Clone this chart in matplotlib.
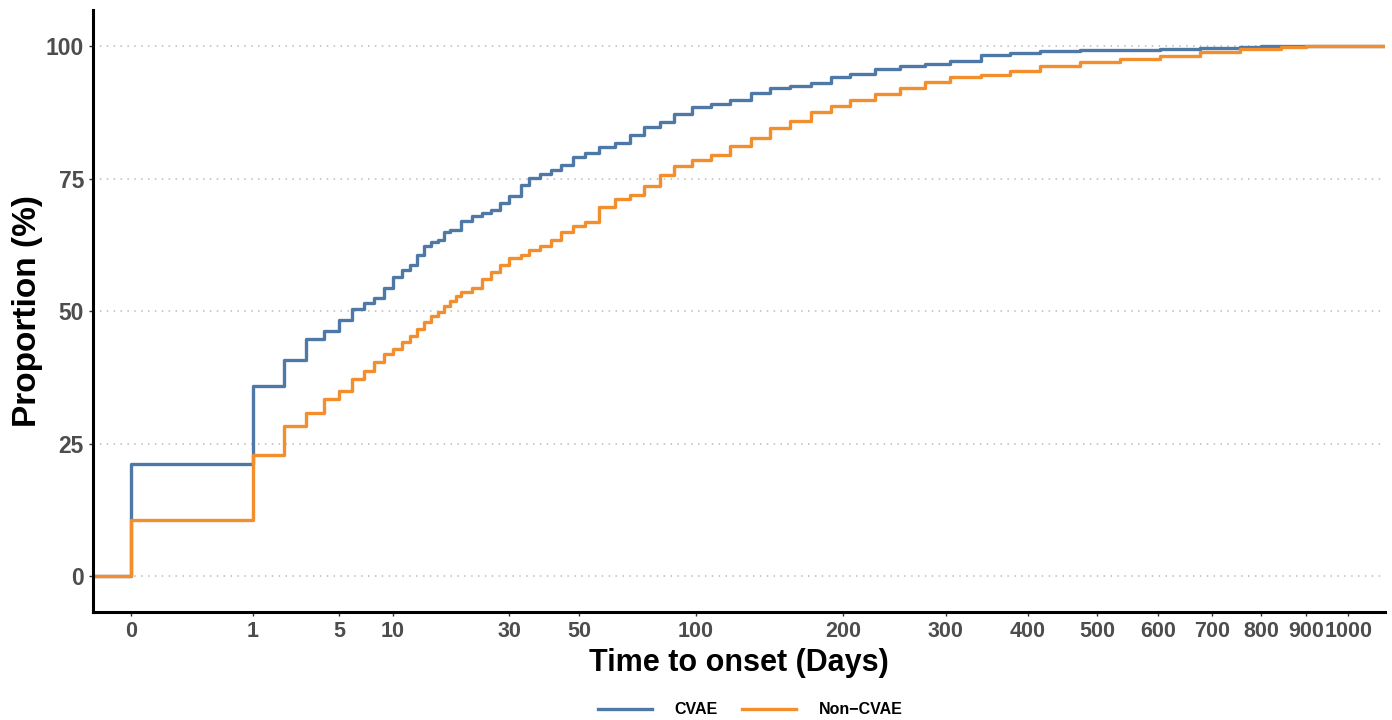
import numpy as np
import matplotlib
matplotlib.use("Agg")
import matplotlib.pyplot as plt

plt.rcParams['font.family'] = ['Liberation Sans', 'DejaVu Sans']

# cumulative proportion (%) by time to onset (days)
cvae_days = [0, 1, 2, 3, 4, 5, 6, 7, 8, 9, 10, 11, 12, 13, 14, 15, 16, 17, 18, 20,
             22, 24, 26, 28, 30, 33, 35, 38, 41, 44, 48, 52, 57, 63, 69, 75, 82, 89, 98,
             108, 119, 132, 145, 159, 174, 190, 206, 228, 252, 278, 305, 340, 377, 417,
             474, 537, 604, 678, 757, 800]
cvae_pct = [21.1, 35.8, 40.8, 44.7, 46.2, 48.3, 50.4, 51.5, 52.5, 54.3, 56.4, 57.7, 58.7,
            60.6, 62.3, 63.0, 63.4, 64.9, 65.3, 67.0,
            67.9, 68.5, 69.1, 70.4, 71.7, 73.8, 75.1, 75.8, 76.6, 77.5, 79.1, 79.8, 80.9,
            81.7, 83.2, 84.7, 85.7, 87.2, 88.5, 89.1, 89.8, 91.1, 92.1, 92.5, 93.0, 94.2,
            94.7, 95.7, 96.2, 96.6, 97.2, 98.3, 98.7, 99.1, 99.2, 99.3, 99.4, 99.6, 99.8,
            100.0]

noncvae_days = [0, 1, 2, 3, 4, 5, 6, 7, 8, 9, 10, 11, 12, 13, 14, 15, 16, 17, 18, 19, 20,
                22, 24, 26, 28, 30, 33, 35, 38, 41, 44, 48, 52, 57, 63, 69, 75, 82, 89, 98,
                108, 119, 132, 145, 159, 174, 190, 206, 228, 252, 278, 305, 340, 377, 417,
                474, 537, 604, 678, 757, 842, 900]
noncvae_pct = [10.6, 22.8, 28.3, 30.8, 33.4, 34.9, 37.2, 38.7, 40.4, 41.9, 42.8, 44.2, 45.3,
               46.6, 47.9, 49.1, 49.8, 50.9, 51.9, 52.8, 53.6,
               54.3, 56.0, 57.4, 58.7, 60.0, 60.6, 61.5, 62.3, 63.4, 64.9, 66.0, 66.8, 69.6,
               71.1, 71.9, 73.6, 75.7, 77.4, 78.5, 79.4, 81.1, 82.6, 84.5, 85.8, 87.5, 88.7,
               89.8, 90.9, 92.1, 93.2, 94.2, 94.5, 95.3, 96.2, 97.0, 97.5, 98.1, 98.9, 99.4,
               99.8, 100.0]

x_ticks = [0, 1, 5, 10, 30, 50, 100, 200, 300, 400, 500, 600, 700, 800, 900, 1000]
y_ticks = [0, 25, 50, 75, 100]

blue = '#4E79A7'
orange = '#F28E2B'

fig = plt.figure(figsize=(13.92, 7.2), dpi=100)
ax = fig.add_axes([0.0668, 0.15, 0.9282, 0.836])

# cube-root axis
ax.set_xscale('function', functions=(np.cbrt, lambda v: v ** 3))
xmin, xmax = -0.0298, 1093
ax.set_xlim(xmin, xmax)
ax.set_ylim(-6.8, 106.8)

for days, pct, col, lab in [(cvae_days, cvae_pct, blue, 'CVAE'),
                            (noncvae_days, noncvae_pct, orange, 'Non\u2212CVAE')]:
    xs = [xmin] + list(days) + [xmax]
    ys = [0] + list(pct) + [pct[-1]]
    ax.step(xs, ys, where='post', color=col, lw=2.4, label=lab)

ax.set_xticks(x_ticks)
ax.set_xticklabels([str(t) for t in x_ticks])
ax.set_yticks(y_ticks)
ax.yaxis.grid(True, color='#BBBBBB', linestyle=(0, (1, 3.5)), lw=1.1)
ax.set_axisbelow(True)

for s in ['top', 'right']:
    ax.spines[s].set_visible(False)
for s in ['left', 'bottom']:
    ax.spines[s].set_linewidth(2.2)
    ax.spines[s].set_color('black')

ax.tick_params(axis='both', length=3, width=1, color='#333333', labelcolor='#4D4D4D')
for lbl in ax.get_xticklabels():
    lbl.set_fontsize(15.5)
    lbl.set_fontweight('bold')
for lbl in ax.get_yticklabels():
    lbl.set_fontsize(16.5)
    lbl.set_fontweight('bold')

ax.set_xlabel('Time to onset (Days)', fontsize=22, fontweight='bold', labelpad=4)
ax.set_ylabel('Proportion (%)', fontsize=24, fontweight='bold', labelpad=2)

fig.legend(loc='center', bbox_to_anchor=(0.539, 0.014), ncol=2, frameon=False,
           prop={'size': 11.5, 'weight': 'bold'}, handlelength=3.4, handletextpad=1.4,
           columnspacing=1.5)

fig.savefig('out.png', dpi=100)
